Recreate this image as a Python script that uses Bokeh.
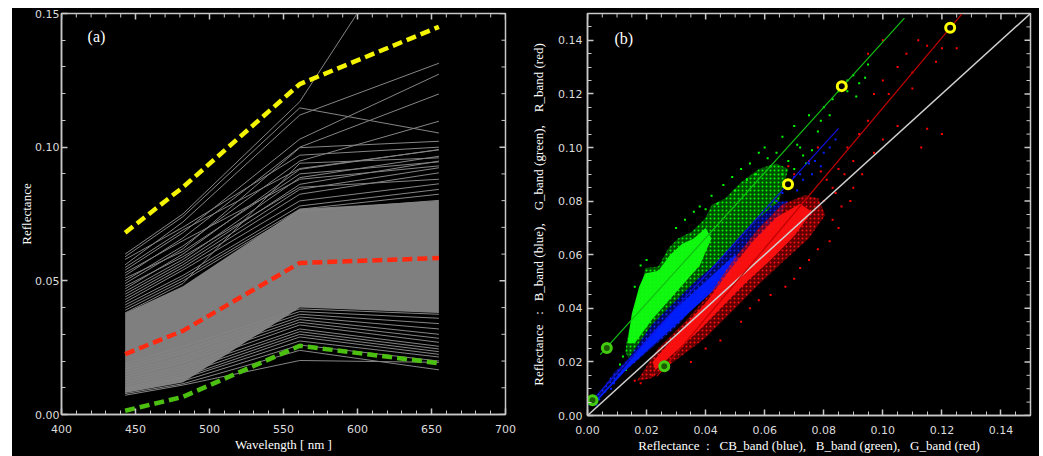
import math
from bokeh.plotting import figure
from bokeh.models import Range1d, FixedTicker, PrintfTickFormatter, Label, Spacer
from bokeh.layouts import row, column
from bokeh.embed import file_html
from bokeh.resources import INLINE

# ---------------- data: panel (a) ----------------
wavelengths = [443, 482, 561, 655]

spec_upper = [
    [0.060, 0.075, 0.117, 0.197],
    [0.059, 0.074, 0.1147, 0.1053],
    [0.056, 0.072, 0.112, 0.1314],
    [0.054, 0.068, 0.103, 0.1273],
    [0.052, 0.066, 0.100, 0.1199],
    [0.050, 0.063, 0.0948, 0.1097],
    [0.049, 0.062, 0.0998, 0.1022],
    [0.047, 0.060, 0.0917, 0.0991],
    [0.046, 0.058, 0.0886, 0.0966],
    [0.045, 0.057, 0.0861, 0.0948],
    [0.044, 0.056, 0.0842, 0.0923],
    [0.043, 0.055, 0.0824, 0.0904],
    [0.042, 0.054, 0.0799, 0.0863],
    [0.041, 0.052, 0.0780, 0.0842],
    [0.040, 0.051, 0.0768, 0.0824],
    [0.039, 0.050, 0.0760, 0.0801],
    [0.038, 0.049, 0.0940, 0.0960],
    [0.058, 0.070, 0.0970, 0.1000],
    [0.055, 0.069, 0.0920, 0.0990],
    [0.053, 0.065, 0.0880, 0.0930],
    [0.051, 0.061, 0.0900, 0.0945],
    [0.048, 0.059, 0.0850, 0.0880],
]
spec_lower = [
    [0.0072, 0.0110, 0.0202, 0.0195],
    [0.0078, 0.0115, 0.0240, 0.0167],
    [0.0085, 0.0125, 0.0260, 0.0200],
    [0.0090, 0.0135, 0.0275, 0.0215],
    [0.0095, 0.0140, 0.0290, 0.0225],
    [0.0100, 0.0150, 0.0300, 0.0235],
    [0.0110, 0.0160, 0.0310, 0.0245],
    [0.0120, 0.0170, 0.0320, 0.0255],
    [0.0130, 0.0180, 0.0335, 0.0270],
    [0.0140, 0.0195, 0.0345, 0.0285],
    [0.0150, 0.0205, 0.0355, 0.0300],
    [0.0160, 0.0215, 0.0365, 0.0320],
    [0.0170, 0.0230, 0.0375, 0.0340],
    [0.0180, 0.0240, 0.0385, 0.0360],
    [0.0190, 0.0255, 0.0395, 0.0375],
]
band_low = [0.0080, 0.0120, 0.0400, 0.0380]
band_high = [0.0380, 0.0480, 0.0770, 0.0800]

max_spec = [0.068, 0.085, 0.1236, 0.145]
mean_spec = [0.0226, 0.0313, 0.0567, 0.0585]
min_spec = [0.0014, 0.0066, 0.0257, 0.0192]

a_xticks = [400, 450, 500, 550, 600, 650, 700]
a_xminor = [410, 420, 430, 440, 460, 470, 480, 490, 510, 520, 530, 540, 560, 570, 580, 590,
            610, 620, 630, 640, 660, 670, 680, 690]
a_yticks = [0.0, 0.05, 0.10, 0.15]
a_yminor = [0.01, 0.02, 0.03, 0.04, 0.06, 0.07, 0.08, 0.09, 0.11, 0.12, 0.13, 0.14]

# ---------------- data: panel (b) ----------------
green_hull_x = [0.0128, 0.0139, 0.0161, 0.0184, 0.0195, 0.0240, 0.0274, 0.0308, 0.0353, 0.0399,
                0.0421, 0.0466, 0.0520, 0.0580, 0.0640, 0.0680, 0.0647, 0.0579, 0.0512, 0.0444,
                0.0376, 0.0308, 0.0218, 0.0139]
green_hull_y = [0.0239, 0.0314, 0.0400, 0.0488, 0.0550, 0.0556, 0.0624, 0.0661, 0.0686, 0.0736,
                0.0786, 0.0810, 0.0870, 0.0920, 0.0940, 0.0920, 0.0798, 0.0736, 0.0661, 0.0574,
                0.0512, 0.0438, 0.0339, 0.0214]
green_core_x = [0.0135, 0.0150, 0.0175, 0.0195, 0.0240, 0.0280, 0.0320, 0.0360, 0.0400, 0.0420,
                0.0380, 0.0300, 0.0220, 0.0160]
green_core_y = [0.0270, 0.0380, 0.0480, 0.0530, 0.0540, 0.0600, 0.0640, 0.0660, 0.0700, 0.0660,
                0.0560, 0.0460, 0.0360, 0.0270]

blue_hull_x = [0.0015, 0.0050, 0.0090, 0.0139, 0.0218, 0.0308, 0.0376, 0.0444, 0.0512, 0.0579,
               0.0647, 0.0680, 0.0636, 0.0579, 0.0512, 0.0444, 0.0376, 0.0308, 0.0218, 0.0139,
               0.0071, 0.0025]
blue_hull_y = [0.0050, 0.0100, 0.0160, 0.0214, 0.0339, 0.0438, 0.0512, 0.0574, 0.0661, 0.0736,
               0.0798, 0.0800, 0.0711, 0.0661, 0.0587, 0.0512, 0.0426, 0.0339, 0.0252, 0.0177,
               0.0115, 0.0045]
blue_core_x = [0.0030, 0.0080, 0.0140, 0.0220, 0.0300, 0.0380, 0.0450, 0.0500, 0.0520, 0.0460,
               0.0380, 0.0300, 0.0220, 0.0140, 0.0080, 0.0030]
blue_core_y = [0.0060, 0.0120, 0.0200, 0.0310, 0.0400, 0.0480, 0.0550, 0.0600, 0.0570, 0.0500,
               0.0420, 0.0340, 0.0260, 0.0180, 0.0110, 0.0050]

red_hull_x = [0.0167, 0.0240, 0.0331, 0.0421, 0.0489, 0.0579, 0.0658, 0.0737, 0.0782,
              0.0805, 0.0749, 0.0658, 0.0579, 0.0489, 0.0399, 0.0308, 0.0218]
red_hull_y = [0.0128, 0.0252, 0.0351, 0.0463, 0.0574, 0.0698, 0.0786, 0.0823, 0.0810,
              0.0748, 0.0660, 0.0570, 0.0488, 0.0388, 0.0289, 0.0214, 0.0140]
red_core_x = [0.0220, 0.0300, 0.0400, 0.0480, 0.0560, 0.0640, 0.0720, 0.0760, 0.0700, 0.0620,
              0.0540, 0.0460, 0.0380, 0.0300, 0.0230]
red_core_y = [0.0200, 0.0300, 0.0420, 0.0540, 0.0650, 0.0740, 0.0790, 0.0760, 0.0670, 0.0580,
              0.0500, 0.0410, 0.0320, 0.0240, 0.0170]

green_pts_x = [0.066, 0.070, 0.072, 0.075, 0.078, 0.080, 0.083, 0.085, 0.088, 0.090, 0.092, 0.094, 0.095,
               0.060, 0.058, 0.064, 0.068, 0.070, 0.073, 0.076, 0.079, 0.082, 0.055, 0.052, 0.049, 0.046,
               0.042, 0.038, 0.036, 0.012, 0.011, 0.013, 0.018, 0.020, 0.016, 0.030, 0.033, 0.062, 0.066,
               0.088, 0.091, 0.050, 0.054, 0.057, 0.061, 0.044, 0.040, 0.071, 0.074]
green_pts_y = [0.104, 0.108, 0.100, 0.112, 0.106, 0.115, 0.118, 0.121, 0.125, 0.127, 0.124, 0.126, 0.131,
               0.100, 0.098, 0.098, 0.095, 0.092, 0.097, 0.099, 0.110, 0.112, 0.094, 0.092, 0.089, 0.086,
               0.082, 0.078, 0.076, 0.022, 0.019, 0.017, 0.056, 0.058, 0.048, 0.070, 0.073, 0.093, 0.090,
               0.121, 0.119, 0.084, 0.088, 0.090, 0.096, 0.079, 0.077, 0.101, 0.094]
blue_pts_x = [0.068, 0.070, 0.072, 0.075, 0.077, 0.080, 0.082, 0.084, 0.066, 0.064, 0.062, 0.079, 0.073,
              0.003, 0.004, 0.006, 0.008, 0.009, 0.061, 0.059, 0.071, 0.076]
blue_pts_y = [0.086, 0.089, 0.090, 0.094, 0.095, 0.098, 0.100, 0.103, 0.083, 0.080, 0.078, 0.093, 0.088,
              0.004, 0.006, 0.009, 0.010, 0.012, 0.072, 0.068, 0.084, 0.090]
red_pts_x = [0.080, 0.083, 0.085, 0.087, 0.090, 0.088, 0.092, 0.095, 0.097, 0.100, 0.102, 0.105, 0.108,
             0.110, 0.112, 0.115, 0.118, 0.120, 0.125, 0.100, 0.097, 0.105, 0.115, 0.113, 0.083, 0.085,
             0.082, 0.078, 0.075, 0.072, 0.070, 0.067, 0.058, 0.055, 0.045, 0.040, 0.035, 0.016, 0.018,
             0.022, 0.090, 0.093, 0.075, 0.078, 0.070, 0.068, 0.100, 0.095, 0.110, 0.120, 0.086, 0.081,
             0.084, 0.089, 0.079, 0.062, 0.052]
red_pts_y = [0.080, 0.085, 0.092, 0.090, 0.095, 0.100, 0.105, 0.110, 0.120, 0.125, 0.120, 0.130, 0.135,
             0.128, 0.140, 0.138, 0.132, 0.137, 0.137, 0.103, 0.098, 0.108, 0.107, 0.100, 0.073, 0.070,
             0.065, 0.062, 0.058, 0.055, 0.051, 0.048, 0.043, 0.040, 0.028, 0.025, 0.020, 0.013, 0.012,
             0.015, 0.085, 0.090, 0.095, 0.100, 0.090, 0.093, 0.140, 0.135, 0.122, 0.105, 0.078, 0.088,
             0.083, 0.080, 0.091, 0.045, 0.035]

fit_green_x = [0.0043, 0.1073]
fit_green_y = [0.0227, 0.1483]
fit_blue_x = [0.0000, 0.0850]
fit_blue_y = [0.0037, 0.1071]
fit_red_x = [0.0235, 0.1268]
fit_red_y = [0.0146, 0.1499]
one_to_one = [0.0, 0.15]

low_marks_x = [0.00655, 0.0017, 0.0260]
low_marks_y = [0.0252, 0.0057, 0.0184]
high_marks_x = [0.0861, 0.0679, 0.1228]
high_marks_y = [0.1229, 0.0863, 0.1447]

b_ticks = [0.0, 0.02, 0.04, 0.06, 0.08, 0.10, 0.12, 0.14]
b_minor = [0.005, 0.01, 0.015, 0.025, 0.03, 0.035, 0.045, 0.05, 0.055, 0.065, 0.07, 0.075,
           0.085, 0.09, 0.095, 0.105, 0.11, 0.115, 0.125, 0.13, 0.135, 0.145, 0.15]

AX = "#c8c8c8"


def style_axis(ax):
    ax.axis_line_color = AX
    ax.axis_line_width = 1.5
    ax.major_tick_line_color = AX
    ax.minor_tick_line_color = AX
    ax.major_tick_line_width = 1.5
    ax.minor_tick_line_width = 1
    ax.major_tick_in = 6
    ax.major_tick_out = 0
    ax.minor_tick_in = 4
    ax.minor_tick_out = 0
    ax.major_label_text_color = "#dcdcdc"
    ax.major_label_text_font = "DejaVu Sans"
    ax.major_label_text_font_size = "11px"
    ax.axis_label_text_font = "Liberation Serif"
    ax.axis_label_text_font_size = "13px"
    ax.axis_label_text_font_style = "normal"
    ax.axis_label_text_color = "#ffffff"


def make_fig(xr, yr, fw, fh, bl, br, bt, bb, xlabel, ylabel, xt, xm, yt, ym, xfmt, yfmt):
    p = figure(frame_width=fw, frame_height=fh, x_range=Range1d(*xr), y_range=Range1d(*yr),
               output_backend="svg", toolbar_location=None,
               background_fill_color="black", border_fill_color="black",
               min_border_left=bl, min_border_right=br, min_border_top=bt, min_border_bottom=bb,
               x_axis_label=xlabel, y_axis_label=ylabel)
    p.grid.visible = False
    p.outline_line_color = AX
    p.outline_line_width = 1.5
    p.xaxis.ticker = FixedTicker(ticks=xt, minor_ticks=xm)
    p.yaxis.ticker = FixedTicker(ticks=yt, minor_ticks=ym)
    if xfmt:
        p.xaxis.formatter = PrintfTickFormatter(format=xfmt)
    p.yaxis.formatter = PrintfTickFormatter(format=yfmt)
    style_axis(p.xaxis[0])
    style_axis(p.yaxis[0])
    p.xaxis.major_label_standoff = 10
    p.xaxis.axis_label_standoff = 1
    # mirrored inward ticks on the top and right edges
    p.ray(x=xt, y=[yr[1]] * len(xt), length=6, length_units="screen", angle=-math.pi / 2,
          line_color=AX, line_width=1.5)
    p.ray(x=xm, y=[yr[1]] * len(xm), length=4, length_units="screen", angle=-math.pi / 2,
          line_color=AX, line_width=1)
    p.ray(x=[xr[1]] * len(yt), y=yt, length=6, length_units="screen", angle=math.pi,
          line_color=AX, line_width=1.5)
    p.ray(x=[xr[1]] * len(ym), y=ym, length=4, length_units="screen", angle=math.pi,
          line_color=AX, line_width=1)
    return p


# ---------------- panel (a) ----------------
p1 = make_fig((400, 700), (0, 0.15), 444, 401, 49, 15, 5, 42,
              "Wavelength [ nm ]", "Reflectance", a_xticks, a_xminor, a_yticks, a_yminor, None, "%.2f")
p1.yaxis.major_label_standoff = 2
p1.yaxis.axis_label_standoff = -2

p1.varea(x=wavelengths, y1=band_low, y2=band_high, fill_color="#7f7f7f")
all_spec = spec_upper + spec_lower
p1.multi_line(xs=[wavelengths] * len(all_spec), ys=all_spec, line_color="#858585", line_width=1)
p1.line(wavelengths, max_spec, line_color="#f4f400", line_width=4.5, line_dash="10 5")
p1.line(wavelengths, mean_spec, line_color="#ff2a10", line_width=4.5, line_dash="10 5")
p1.line(wavelengths, min_spec, line_color="#4cc010", line_width=4.5, line_dash="10 5")
p1.add_layout(Label(x=417.6, y=0.1414, text="(a)", text_font="Liberation Serif", text_font_size="16px",
                    text_color="white", text_baseline="middle", text_align="left"))

# ---------------- panel (b) ----------------
S = "\u00a0"
xlab_b = "Reflectance" + S * 2 + ":" + S * 3 + "CB_band (blue)," + S * 3 + "B_band (green)," + S * 3 + "G_band (red)"
ylab_b = "Reflectance" + S * 3 + ":" + S * 3 + "B_band (blue)," + S * 4 + "G_band (green)," + S * 4 + "R_band (red)"
p2 = make_fig((0, 0.15), (0, 0.15), 443, 402, 67, 9, 4, 42,
              xlab_b, ylab_b, b_ticks, b_minor, b_ticks, b_minor, "%.2f", "%.2f")
p2.yaxis.major_label_standoff = 5
p2.yaxis.axis_label_standoff = 9

dots = dict(hatch_pattern="dot", hatch_scale=4, hatch_weight=1.2, line_color=None)
p2.patch(green_hull_x, green_hull_y, fill_color="#00b000", fill_alpha=0.45, hatch_color="#00ff00", **dots)
p2.patch(green_core_x, green_core_y, fill_color="#10ff10", fill_alpha=0.95, line_color=None)
p2.scatter(green_pts_x, green_pts_y, marker="square", size=2, fill_color="#00ff00", line_color=None)
p2.patch(blue_hull_x, blue_hull_y, fill_color="#0010c0", fill_alpha=0.5, hatch_color="#1030ff", **dots)
p2.patch(blue_core_x, blue_core_y, fill_color="#0020ff", fill_alpha=0.95, line_color=None)
p2.scatter(blue_pts_x, blue_pts_y, marker="square", size=2, fill_color="#0020ff", line_color=None)
p2.patch(red_hull_x, red_hull_y, fill_color="#c00000", fill_alpha=0.5, hatch_color="#ff1010", **dots)
p2.patch(red_core_x, red_core_y, fill_color="#ff1010", fill_alpha=0.95, line_color=None)
p2.scatter(red_pts_x, red_pts_y, marker="square", size=2, fill_color="#ff0000", line_color=None)

p2.line(one_to_one, one_to_one, line_color="#d0d0d0", line_width=1.5)
p2.line(fit_green_x, fit_green_y, line_color="#10c010", line_width=1.2)
p2.line(fit_blue_x, fit_blue_y, line_color="#1010e0", line_width=1.2)
p2.line(fit_red_x, fit_red_y, line_color="#c00000", line_width=1.2)
p2.scatter(low_marks_x, low_marks_y, marker="circle", size=9, line_color="#44cc10", line_width=3,
           fill_color="#1a5a00")
p2.scatter(high_marks_x, high_marks_y, marker="circle", size=9, line_color="#ffff00", line_width=3,
           fill_color="black")
p2.add_layout(Label(x=0.00915, y=0.1408, text="(b)", text_font="Liberation Serif", text_font_size="16px",
                    text_color="white", text_baseline="middle", text_align="left"))

panels = row(p1, p2, spacing=0, styles={"background-color": "black"})
layout = column(Spacer(width=1043, height=8),
                row(Spacer(width=12, height=448), panels, spacing=0),
                spacing=0)
open("out.html", "w").write(file_html(layout, INLINE))
